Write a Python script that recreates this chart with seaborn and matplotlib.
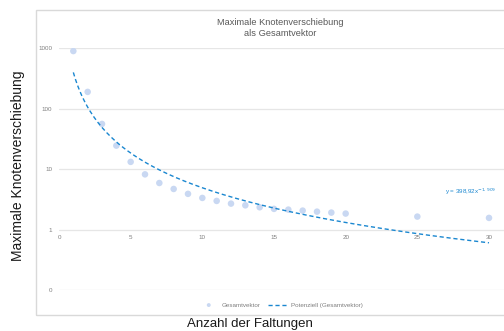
import numpy as np
import pandas as pd
import matplotlib
matplotlib.use("Agg")
import matplotlib.pyplot as plt
from matplotlib.patches import Rectangle
import seaborn as sns

# values
faltungen = [1, 2, 3, 4, 5, 6, 7, 8, 9, 10, 11, 12, 13, 14, 15,
             16, 17, 18, 19, 20, 25, 30]
verschiebung = [900, 190, 56, 24.5, 13.2, 8.2, 5.9, 4.7, 3.9, 3.34, 2.98,
                2.69, 2.52, 2.34, 2.2, 2.14, 2.06, 1.98, 1.91, 1.84, 1.64, 1.56]
# power trendline as shown in the chart label
trend_a = 398.92
trend_b = -1.909
trend_label = "y = 398,92x$^{-1,909}$"

x_ticks = [0, 5, 10, 15, 20, 25, 30]
y_ticks = [0.1, 1, 10, 100, 1000]
y_ticklabels = ["0", "1", "10", "100", "1000"]

sns.set_theme(style="white")
plt.rcParams["font.family"] = ["Liberation Sans", "DejaVu Sans"]

df = pd.DataFrame({"x": faltungen, "y": verschiebung})
xt = np.linspace(min(faltungen), max(faltungen), 200)
trend = pd.DataFrame({"x": xt, "y": trend_a * xt ** trend_b})

W, H = 504, 331
fig = plt.figure(figsize=(W / 100, H / 100), dpi=100)

# chart frame (Excel chart area)
fig.patches.append(Rectangle((35.5 / W, 1 - 315 / H), 1.0, (315 - 10) / H,
                             transform=fig.transFigure, fill=False,
                             edgecolor="#d9d9d9", linewidth=1.0))

ax = fig.add_axes([59 / W, 1 - 290 / H, (504 - 59) / W, (290 - 48.3) / H])
ax.set_facecolor("none")

sns.scatterplot(data=df, x="x", y="y", ax=ax, color="#c9d8f2", s=22,
                edgecolor="none", label="Gesamtvektor", zorder=3)
sns.lineplot(data=trend, x="x", y="y", ax=ax, color="#1a87d0",
             linestyle=(0, (3, 2)), linewidth=1.0,
             label="Potenziell (Gesamtvektor)", zorder=4)

ax.set_yscale("log")
ax.set_ylim(0.1, 1000)
ax.set_xlim(0, (504 - 59) / ((489 - 59) / 30))

ax.set_yticks(y_ticks)
ax.set_yticklabels(y_ticklabels)
ax.minorticks_off()
ax.set_xticks(x_ticks)
ax.set_xticklabels([str(t) for t in x_ticks])
ax.tick_params(axis="both", labelsize=4.5, labelcolor="#7f7f7f", length=0)
ax.tick_params(axis="y", pad=5)
ax.tick_params(axis="x", pad=4)

ax.grid(axis="y", color="#e6e6e6", linewidth=0.9)
ax.grid(axis="x", visible=False)
for s in ["top", "right", "left"]:
    ax.spines[s].set_visible(False)
ax.spines["bottom"].set_position(("data", 1))
ax.spines["bottom"].set_visible(False)
ax.set_xlabel("")
ax.set_ylabel("")

ax.text(30.5, 4.2, trend_label, fontsize=4.5, color="#1a87d0",
        ha="right", va="center")

leg = ax.legend(loc="center", bbox_to_anchor=(281 / W, 1 - 305 / H),
                bbox_transform=fig.transFigure, ncol=2, frameon=False,
                fontsize=4.5, handlelength=3.2, columnspacing=1.2,
                handletextpad=0.5, markerscale=0.6)
for t in leg.get_texts():
    t.set_color("#7f7f7f")

fig.text(280 / W, 1 - 28 / H, "Maximale Knotenverschiebung\nals Gesamtvektor",
         ha="center", va="center", fontsize=6.7, color="#595959",
         linespacing=1.2)
fig.text(18 / W, 1 - 166 / H, "Maximale Knotenverschiebung", rotation=90,
         ha="center", va="center", fontsize=10, color="#1a1a1a")
fig.text(250 / W, 1 - 324 / H, "Anzahl der Faltungen", ha="center",
         va="center", fontsize=9.5, color="#1a1a1a")

fig.savefig("out.png", dpi=100)
